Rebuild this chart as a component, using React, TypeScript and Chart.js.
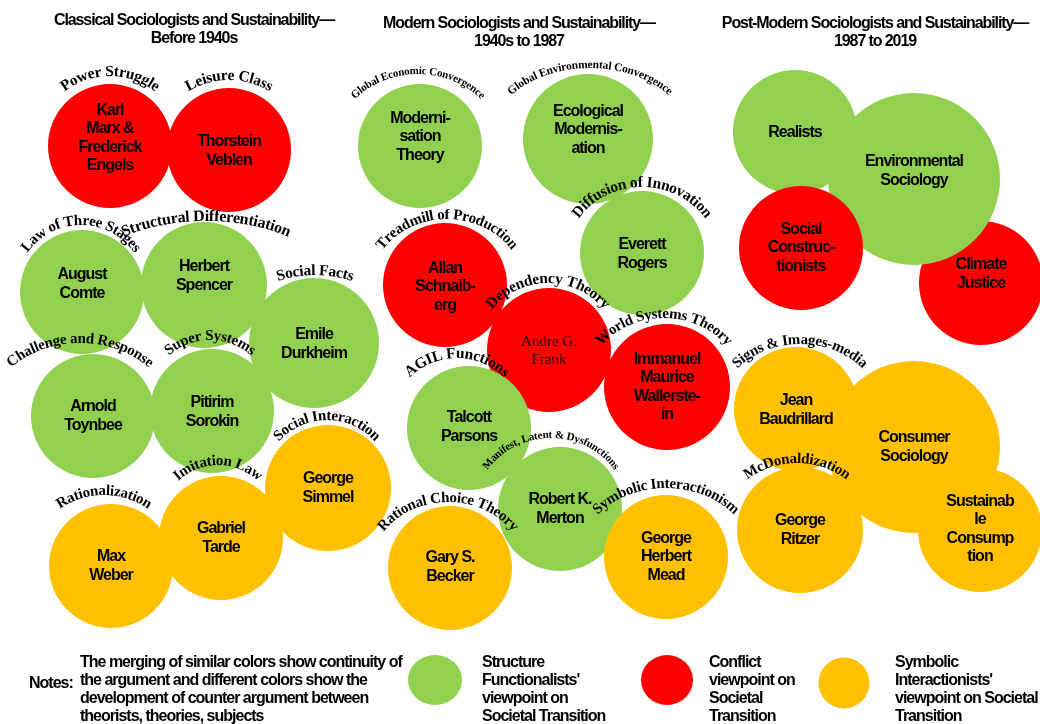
import React, { useEffect, useRef } from "react";
import { Chart, registerables } from "chart.js";

Chart.register(...registerables);

// ---------- DATA ----------
const theorists = [
  "Karl\nMarx &\nFrederick\nEngels",
  "Thorstein\nVeblen",
  "Moderni-\nsation\nTheory",
  "Ecological\nModernis-\nation",
  "August\nComte",
  "Herbert\nSpencer",
  "Emile\nDurkheim",
  "Arnold\nToynbee",
  "Pitirim\nSorokin",
  "Max\nWeber",
  "Gabriel\nTarde",
  "George\nSimmel",
  "Allan\nSchnaib-\nerg",
  "Everett\nRogers",
  "Andre G.\nFrank",
  "Talcott\nParsons",
  "Immanuel\nMaurice\nWallerste-\nin",
  "Robert K.\nMerton",
  "Gary S.\nBecker",
  "George\nHerbert\nMead",
  "Climate\nJustice",
  "Realists",
  "Environmental\nSociology",
  "Social\nConstruc-\ntionists",
  "Jean\nBaudrillard",
  "Consumer\nSociology",
  "George\nRitzer",
  "Sustainab\nle\nConsump\ntion",
];

const xValues = [110, 229, 420, 588, 82, 204, 314, 93, 212, 111, 221, 328, 445, 642, 549, 469, 667, 560, 450, 666, 981, 795, 914, 801, 796, 914, 800, 980];
const yValues = [146, 150, 146, 139, 292, 285, 343, 416, 411, 566, 538, 488, 285, 253, 350, 428, 387, 509, 568, 557, 283, 132, 179, 248, 409, 447, 530, 530];
const sizeValues = [62, 62, 62, 65, 62, 63, 65, 62, 62, 62, 62, 63, 62, 62, 62, 62, 63, 62, 62, 62, 62, 62, 86, 62, 62, 86, 63, 62];

// SF = Structure Functionalist, CF = Conflict, SI = Symbolic Interactionist
const viewpoints = ["CF", "CF", "SF", "SF", "SF", "SF", "SF", "SF", "SF", "SI", "SI", "SI", "CF", "SF", "CF", "SF", "CF", "SF", "SI", "SI", "CF", "SF", "SF", "CF", "SI", "SI", "SI", "SI"];

const theories = [
  "Power Struggle",
  "Leisure Class",
  "Global Economic Convergence",
  "Global Environmental Convergence",
  "Law of Three Stages",
  "Structural Differentiation",
  "Social Facts",
  "Challenge and Response",
  "Super Systems",
  "Rationalization",
  "Imitation Law",
  "Social Interaction",
  "Treadmill of Production",
  "Diffusion of Innovation",
  "Dependency Theory",
  "AGIL Functions",
  "World Systems Theory",
  "Manifest, Latent & Dysfunctions",
  "Rational Choice Theory",
  "Symbolic Interactionism",
  "",
  "",
  "",
  "",
  "Signs & Images-media",
  "",
  "McDonaldization",
  "",
];

const eraTitles = [
  ["Classical Sociologists and Sustainability\u2014", "Before 1940s"],
  ["Modern Sociologists and Sustainability\u2014", "1940s to 1987"],
  ["Post-Modern Sociologists and Sustainability\u2014", "1987 to 2019"],
];

const notesLabel = "Notes:";
const notesLines = [
  "The merging of similar colors show continuity of",
  "the argument and different colors show the",
  "development of counter argument between",
  "theorists, theories, subjects",
];
const legendKeys = ["SF", "CF", "SI"];
const legendLines = [
  ["Structure", "Functionalists'", "viewpoint on", "Societal Transition"],
  ["Conflict", "viewpoint on", "Societal", "Transition"],
  ["Symbolic", "Interactionists'", "viewpoint on Societal", "Transition"],
];

// ---------- STYLE / LAYOUT ----------
const COLORS: Record<string, string> = { SF: "#92D050", CF: "#FF0000", SI: "#FFC000" };

// per-bubble text vertical offset
const textDy = [-8, 1, -9, -9, -8, -9, 1, 0, 1, 0, 0, 0, 2, 1, 1, -1, 0, 0, -1, 0, -9, 1, -8, 0, 1, 0, 0, -1];

// arc label geometry: ellipse centre offset dx from bubble centre, semi axes a,b, font size
const arcGeom = [
  { dx: 0, a: 72, b: 70, s: 15.5 },
  { dx: 0, a: 74, b: 70, s: 15.5 },
  { dx: -2, a: 83, b: 72, s: 11 },
  { dx: 2, a: 100, b: 71, s: 11.5 },
  { dx: -1, a: 66, b: 67, s: 15 },
  { dx: 2, a: 125, b: 64, s: 16 },
  { dx: 1, a: 90, b: 68, s: 15.5 },
  { dx: -13, a: 92, b: 73, s: 15 },
  { dx: -2, a: 66, b: 71, s: 15 },
  { dx: -7, a: 74, b: 71, s: 15 },
  { dx: -3, a: 64, b: 73, s: 15 },
  { dx: -1, a: 66, b: 68, s: 15 },
  { dx: 2, a: 76, b: 66, s: 15 },
  { dx: 0, a: 74, b: 66, s: 15.5 },
  { dx: -1, a: 70, b: 67, s: 15.5 },
  { dx: -12, a: 68, b: 70, s: 15.5 },
  { dx: -3, a: 78, b: 69, s: 15 },
  { dx: -9, a: 76, b: 71, s: 11 },
  { dx: -2, a: 77, b: 66, s: 15 },
  { dx: 0, a: 86, b: 69, s: 15 },
  null,
  null,
  null,
  null,
  { dx: 4, a: 80, b: 65, s: 15 },
  null,
  { dx: -3, a: 75, b: 67, s: 15 },
  null,
];

const SANS = '"Liberation Sans", Arial, sans-serif';
const SERIF = '"Liberation Serif", "Times New Roman", serif';

function drawArcText(ctx: CanvasRenderingContext2D, text: string, cx: number, cy: number, a: number, b: number, font: string, spacing: number) {
  ctx.save();
  ctx.font = font;
  (ctx as any).letterSpacing = "0px";
  const chars = Array.from(text);
  const widths = chars.map((c) => ctx.measureText(c).width + spacing);
  const total = widths.reduce((p, c) => p + c, 0) - spacing;
  const N = 4000;
  const t0 = -1.5 * Math.PI;
  const t1 = 0.5 * Math.PI;
  const ts: number[] = [];
  const ls: number[] = [];
  let px = cx + a * Math.cos(t0);
  let py = cy + b * Math.sin(t0);
  let acc = 0;
  for (let i = 0; i <= N; i++) {
    const t = t0 + ((t1 - t0) * i) / N;
    const x = cx + a * Math.cos(t);
    const y = cy + b * Math.sin(t);
    acc += Math.hypot(x - px, y - py);
    px = x;
    py = y;
    ts.push(t);
    ls.push(acc);
  }
  const sMid = ls[N / 2];
  let s = sMid - total / 2;
  ctx.textAlign = "center";
  ctx.textBaseline = "alphabetic";
  ctx.fillStyle = "#000";
  chars.forEach((c, i) => {
    const sc = s + (widths[i] - spacing) / 2;
    let j = 0;
    while (j < N && ls[j] < sc) j++;
    const t = ts[j];
    const x = cx + a * Math.cos(t);
    const y = cy + b * Math.sin(t);
    const ang = Math.atan2(b * Math.cos(t), -a * Math.sin(t));
    ctx.save();
    ctx.translate(x, y);
    ctx.rotate(ang);
    ctx.fillText(c, 0, 0);
    ctx.restore();
    s += widths[i];
  });
  ctx.restore();
}

const labelPlugin = {
  id: "sociologyLabels",
  afterDatasetsDraw(chart: any) {
    const ctx: CanvasRenderingContext2D = chart.ctx;
    const meta = chart.getDatasetMeta(0);
    ctx.save();
    // bubble names
    meta.data.forEach((el: any, i: number) => {
      const lines = theorists[i].split("\n");
      const serif = theorists[i].startsWith("Andre");
      ctx.font = serif ? `15px ${SERIF}` : `bold 16px ${SANS}`;
      (ctx as any).letterSpacing = serif ? "0px" : "-1px";
      ctx.fillStyle = serif ? "#220000" : "#000";
      ctx.textAlign = "center";
      ctx.textBaseline = "middle";
      const lh = 18.5;
      const y0 = el.y + textDy[i] - ((lines.length - 1) * lh) / 2;
      lines.forEach((ln, k) => ctx.fillText(ln, el.x, y0 + k * lh));
    });
    // theory arcs
    meta.data.forEach((el: any, i: number) => {
      const g = arcGeom[i];
      if (!g || !theories[i]) return;
      drawArcText(ctx, theories[i], el.x + g.dx, el.y, g.a, g.b, `bold ${g.s}px ${SERIF}`, g.s > 12 ? -0.3 : -0.2);
    });
    // era titles
    const titleX = [194, 519, 875];
    const titleY = [[25, 43], [28, 46], [28, 46]];
    ctx.font = `bold 16px ${SANS}`;
    (ctx as any).letterSpacing = "-1.1px";
    ctx.fillStyle = "#000";
    ctx.textAlign = "center";
    ctx.textBaseline = "alphabetic";
    eraTitles.forEach((t, i) => {
      ctx.fillText(t[0], titleX[i], titleY[i][0]);
      ctx.fillText(t[1], titleX[i], titleY[i][1]);
    });
    // notes & legend
    ctx.textAlign = "left";
    (ctx as any).letterSpacing = "-1px";
    ctx.fillText(notesLabel, 29, 688);
    const baseY = [667, 685, 703, 721];
    notesLines.forEach((ln, k) => ctx.fillText(ln, 80, baseY[k]));
    const swatches = [
      { x: 435, y: 680, rx: 27, ry: 25 },
      { x: 667, y: 680, rx: 26, ry: 25 },
      { x: 844, y: 683, rx: 25.5, ry: 25.5 },
    ];
    const textX = [482, 709, 895];
    legendKeys.forEach((k, i) => {
      const sw = swatches[i];
      ctx.fillStyle = COLORS[k];
      ctx.beginPath();
      ctx.ellipse(sw.x, sw.y, sw.rx, sw.ry, 0, 0, Math.PI * 2);
      ctx.fill();
      ctx.fillStyle = "#000";
      legendLines[i].forEach((ln, j) => ctx.fillText(ln, textX[i], baseY[j]));
    });
    ctx.restore();
  },
};

export default function App() {
  const ref = useRef<HTMLCanvasElement | null>(null);
  useEffect(() => {
    document.body.style.margin = "0";
    const canvas = ref.current;
    if (!canvas) return;
    const chart = new Chart(canvas, {
      type: "bubble",
      data: {
        datasets: [
          {
            label: "Sociologists",
            data: theorists.map((_, i) => ({ x: xValues[i], y: yValues[i], r: sizeValues[i] })),
            backgroundColor: viewpoints.map((v) => COLORS[v]),
            borderWidth: 0,
            hoverRadius: 0,
            hoverBorderWidth: 0,
            clip: false as any,
          },
        ],
      },
      options: {
        responsive: false,
        devicePixelRatio: 1,
        animation: false,
        events: [],
        layout: { padding: 0, autoPadding: false },
        scales: {
          x: { type: "linear", min: 0, max: 1040, display: false },
          y: { type: "linear", min: 0, max: 724, reverse: true, display: false },
        },
        plugins: { legend: { display: false }, tooltip: { enabled: false }, title: { display: false } },
      },
      plugins: [labelPlugin],
    });
    return () => chart.destroy();
  }, []);
  return <canvas ref={ref} width={1040} height={724} style={{ display: "block", background: "#fff" }} />;
}
